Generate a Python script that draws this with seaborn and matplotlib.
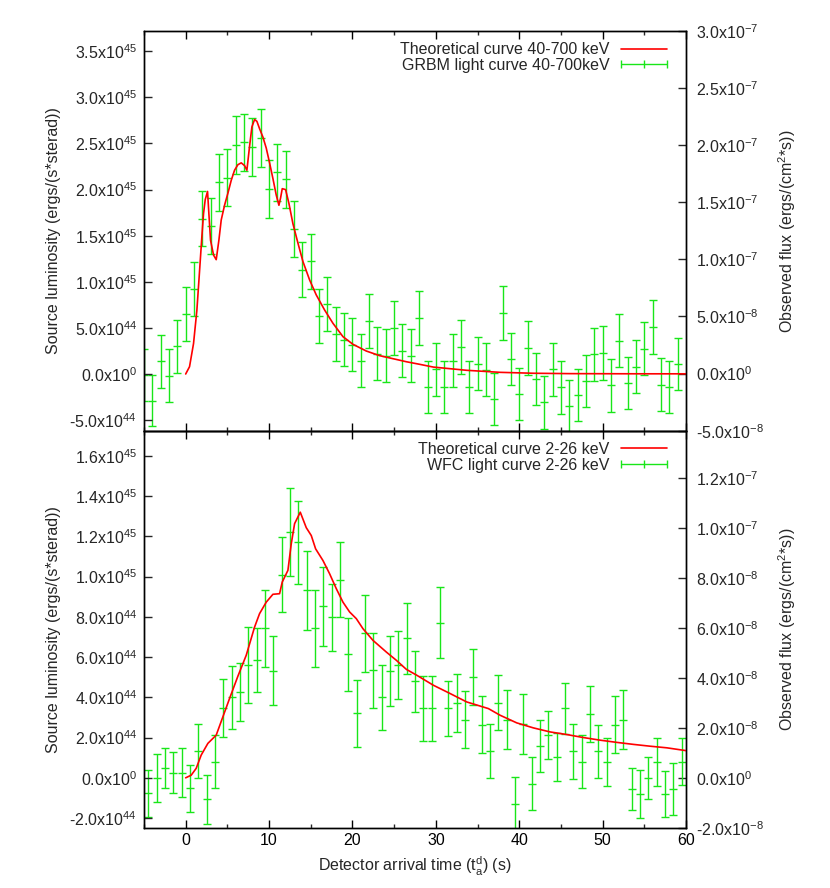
import numpy as np
import seaborn as sns
import matplotlib
matplotlib.use('Agg')
import matplotlib.pyplot as plt
from matplotlib.ticker import FuncFormatter, MultipleLocator
from matplotlib.legend_handler import HandlerErrorbar

# ---- data ----
# top panel: GRBM 40-700 keV
grbm_t = [-5, -4, -3, -2, -1, 0, 1, 2, 3, 4, 5, 6, 7, 8, 9, 10, 11, 12, 13, 14,
          15, 16, 17, 18, 19, 20, 21, 22, 23, 24, 25, 26, 27, 28, 29, 30, 31, 32,
          33, 34, 35, 36, 37, 38, 39, 40, 41, 42, 43, 44, 45, 46, 47, 48, 49, 50,
          51, 52, 53, 54, 55, 56, 57, 58, 59]
grbm_flux = [-0.1, -2.36, 1.08, -0.17, 2.39, 5.18, 7.40, 13.58, 12.94, 16.76,
             17.16, 20.04, 20.25, 19.82, 20.66, 16.17, 17.63, 17.02, 12.65, 9.09,
             9.82, 5.07, 6.12, 3.47, 2.97, 2.53, 1.14, 4.63, 1.75, 1.57,
             3.99, 2.01, 1.57, 4.87, -1.16, 0.38, -1.16, 1.14, 2.33, -1.16,
             0.87, 0.35, -2.21, 5.33, 1.28, -1.75, 2.25, -0.46, -2.51, 0.38,
             -1.2, -2.86, -1.86, -0.67, 1.69, 1.81, -1.02, 2.88, -0.81, 0.61,
             2.19, 4.11, -0.96, -1.14, 0.85]  # 1e-8 erg/cm2/s
grbm_err = [2.26, 2.26, 2.30, 2.30, 2.33, 2.36, 2.36, 2.45, 2.43, 2.49,
            2.48, 2.53, 2.52, 2.52, 2.53, 2.52, 2.50, 2.48, 2.43, 2.40,
            2.40, 2.36, 2.36, 2.36, 2.33, 2.33, 2.30, 2.36, 2.33, 2.33,
            2.33, 2.30, 2.30, 2.33, 2.26, 2.30, 2.26, 2.30, 2.33, 2.26,
            2.30, 2.30, 2.26, 2.36, 2.30, 2.28, 2.33, 2.30, 2.30, 2.30,
            2.30, 2.28, 2.28, 2.28, 2.33, 2.33, 2.30, 2.30, 2.28, 2.30,
            2.30, 2.36, 2.30, 2.28, 2.30]

theo_hi_t = [0, 0.46, 0.94, 1.34, 1.62, 1.94, 2.14, 2.34, 2.62, 2.78,
             2.98, 3.34, 3.66, 3.98, 4.26, 4.66, 5.06, 5.46, 5.86, 6.26,
             6.66, 7.06, 7.34, 7.66, 7.94, 8.26, 8.54, 8.86, 9.26, 9.66,
             10.06, 10.46, 10.86, 11.18, 11.38, 11.58, 11.98, 12.38, 12.86, 13.46,
             14.06, 14.86, 15.66, 16.66, 17.66, 18.86, 20.06, 21.66, 23.26, 24.86,
             26.46, 28.06, 29.7, 33.7, 37.7, 41.7, 46, 50, 55, 60]
theo_hi_lum = [0, 0.079, 0.33, 0.69, 1.06, 1.49, 1.74, 1.89, 1.98, 1.74,
               1.45, 1.29, 1.24, 1.45, 1.67, 1.83, 1.96, 2.10, 2.21, 2.27,
               2.29, 2.26, 2.21, 2.47, 2.68, 2.76, 2.74, 2.66, 2.57, 2.45,
               2.29, 2.12, 1.94, 1.83, 1.91, 2.01, 2.00, 1.85, 1.63, 1.42,
               1.22, 1.02, 0.857, 0.694, 0.55, 0.405, 0.322, 0.249, 0.199, 0.166,
               0.133, 0.105, 0.075, 0.04, 0.018, 0.008, 0.004, 0.003, 0.002, 0.002]  # 1e45

# bottom panel: WFC 2-26 keV
wfc_t = [-4.5, -3.5, -2.5, -1.5, -0.5, 0.5, 1.5, 2.5, 3.5, 4.5, 5.5, 6.5, 7.5,
         8.5, 9.5, 10.5, 11.5, 12.5, 13.5, 14.5, 15.5, 16.5, 17.5, 18.5, 19.5,
         20.5, 21.5, 22.5, 23.5, 24.5, 25.5, 26.5, 27.5, 28.5, 29.5, 30.5, 31.5,
         32.5, 33.5, 34.5, 35.5, 36.5, 37.5, 38.5, 39.5, 40.5, 41.5, 42.5, 43.5,
         44.5, 45.5, 46.5, 47.5, 48.5, 49.5, 50.5, 51.5, 52.5, 53.5, 54.5, 55.5,
         56.5, 57.5, 58.5, 59.5]
wfc_flux = [-0.62, 0.0, 0.41, 0.21, 0.21, -0.43, 1.07, -0.87, 0.64, 2.78,
            3.22, 3.43, 4.51, 4.71, 5.99, 4.28, 8.14, 9.84, 9.43, 7.50,
            5.99, 6.86, 6.42, 7.94, 4.94, 2.58, 5.78, 4.30, 3.22, 4.28,
            4.51, 5.58, 3.86, 2.78, 2.78, 6.21, 2.78, 2.99, 2.33, 4.04,
            2.13, 1.06, 3.0, 2.33, -1.07, 2.15, -0.23, 1.27, 1.71, 0.84,
            2.78, 1.06, 0.64, 2.56, 1.06, 0.64, 2.13, 2.33, -0.44, -0.65,
            -0.01, 0.64, -0.65, -0.44, 0.64]  # 1e-8 erg/cm2/s
wfc_err = [0.95, 0.96, 0.80, 0.83, 0.99, 0.95, 1.07, 1.0, 1.06, 1.16,
           1.27, 1.17, 1.52, 1.28, 1.55, 1.38, 1.51, 1.75, 1.67, 1.60,
           1.55, 1.59, 1.36, 1.52, 1.46, 1.33, 1.53, 1.49, 1.30, 1.39,
           1.36, 1.43, 1.21, 1.29, 1.29, 1.43, 1.10, 1.17, 1.15, 1.12,
           1.13, 1.08, 1.10, 1.19, 1.10, 1.20, 1.07, 1.05, 0.96, 0.97,
           1.02, 1.10, 1.07, 1.13, 1.07, 0.97, 1.13, 1.19, 0.85, 0.98,
           0.85, 0.97, 0.93, 1.05, 0.94]

theo_lo_t = [0, 0.66, 1.26, 1.86, 2.66, 3.66, 4.46, 5.26, 6.26, 7.26,
             8.26, 8.86, 9.66, 10.46, 11.26, 11.58, 12.26, 12.66, 13.06, 13.74,
             14.46, 15.06, 15.58, 16.46, 17.26, 18.06, 18.86, 19.66, 20.46, 21.26,
             22.46, 24.06, 25.26, 26.46, 27.7, 29.7, 31.7, 33.7, 36.3, 37.7,
             39.7, 41.7, 43.7, 45.7, 47.7, 49.7, 51.7, 53.7, 55.7, 57.7, 60]
theo_lo_lum = [0, 0.13, 0.47, 1.13, 1.71, 2.12, 3.03, 3.94, 5.05, 6.09,
               7.49, 8.16, 8.73, 9.12, 9.15, 9.73, 10.31, 11.63, 12.63, 13.2,
               12.43, 12.04, 11.38, 10.8, 10.14, 9.40, 8.73, 8.24, 7.91, 7.41,
               6.83, 6.25, 5.84, 5.39, 5.10, 4.60, 4.19, 3.77, 3.44, 3.11,
               2.73, 2.48, 2.28, 2.15, 2.00, 1.87, 1.76, 1.66, 1.57, 1.49, 1.35]  # 1e44

sns.set_theme(style='white')
plt.rcParams['font.family'] = ['Liberation Sans', 'DejaVu Sans']
plt.rcParams['mathtext.fontset'] = 'custom'
plt.rcParams['mathtext.rm'] = 'Liberation Sans'
plt.rcParams['mathtext.it'] = 'Liberation Sans'
plt.rcParams['axes.edgecolor'] = 'black'
plt.rcParams['axes.linewidth'] = 1.0

RED = '#ff0000'
GREEN = '#19e619'
FS = 11.5


def sci(v, pos=None):
    if v == 0:
        return r'0.0x10$^{0}$'
    m, e = f'{v:.1e}'.split('e')
    return m + r'x10$^{' + str(int(e)) + '}$'


def style_axes(ax, ax2):
    ax.set_xlim(-5, 60)
    ax.xaxis.set_major_locator(MultipleLocator(10))
    ax.xaxis.set_minor_locator(MultipleLocator(5))
    ax.tick_params(axis='x', which='major', direction='in', length=6, top=True, bottom=True,
                   labelsize=FS, colors='black', width=1)
    ax.tick_params(axis='x', which='minor', direction='in', length=3, top=True, bottom=True,
                   width=1)
    ax.tick_params(axis='y', direction='in', length=6, left=True, right=False,
                   labelsize=FS, width=1, pad=5)
    ax2.tick_params(axis='y', direction='in', length=6, right=True, left=False,
                    labelsize=FS, width=1, pad=7)
    ax2.tick_params(axis='x', top=False, bottom=False)
    ax.yaxis.set_major_formatter(FuncFormatter(sci))
    ax2.yaxis.set_major_formatter(FuncFormatter(sci))
    ax.set_ylabel('Source luminosity (ergs/(s*sterad))', fontsize=FS, labelpad=6)
    ax2.set_ylabel(r'Observed flux (ergs/(cm$^{2}$*s))', fontsize=FS, labelpad=9)
    for sp in list(ax.spines.values()) + list(ax2.spines.values()):
        sp.set_color('black')


fig = plt.figure(figsize=(8.3, 8.88), dpi=100)
L, W = 144 / 830, 542 / 830
ax_top = fig.add_axes([L, 1 - 430.7 / 888, W, (430.7 - 31) / 888])
ax_bot = fig.add_axes([L, 1 - 827.7 / 888, W, (827.7 - 430.7) / 888])

panels = [
    (ax_top, theo_hi_t, theo_hi_lum, 1e45, grbm_t, grbm_flux, grbm_err,
     'Theoretical curve 40-700 keV', 'GRBM light curve 40-700keV',
     (-6.15e44, 3.72e45), np.arange(-5e44, 3.6e45, 5e44),
     (-5e-8, 3e-7), np.arange(-5e-8, 3.1e-7, 5e-8)),
    (ax_bot, theo_lo_t, theo_lo_lum, 1e44, wfc_t, wfc_flux, wfc_err,
     'Theoretical curve 2-26 keV', 'WFC light curve 2-26 keV',
     (-2.48e44, 1.725e45), np.arange(-2e44, 1.7e45, 2e44),
     (-2e-8, 1.39e-7), np.arange(-2e-8, 1.3e-7, 2e-8)),
]

for (ax, tt, tl, tscale, dt, df, de, lab_t, lab_d, ylim, yticks, y2lim, y2ticks) in panels:
    ax2 = ax.twinx()
    ax.set_zorder(ax2.get_zorder() + 1)
    ax.patch.set_visible(False)
    lum = np.array(tl) * tscale
    sns.lineplot(x=tt, y=lum, ax=ax, color=RED, lw=1.2, label=lab_t, legend=False)
    ax2.errorbar(dt, np.array(df) * 1e-8, yerr=np.array(de) * 1e-8, fmt='_',
                 color=GREEN, ecolor=GREEN, ms=6, mew=1, elinewidth=1,
                 capsize=3, capthick=1, zorder=1)
    ax.set_ylim(*ylim)
    ax.set_yticks(yticks)
    ax2.set_ylim(*y2lim)
    ax2.set_yticks(y2ticks)
    style_axes(ax, ax2)
    h1 = ax.get_lines()[0]
    # gnuplot-style legend key: horizontal bar with end caps and a centre tick
    key = ax.errorbar([np.nan], [np.nan], xerr=[1], fmt='|', color=GREEN, ms=6, mew=1,
                      elinewidth=1, capsize=3, capthick=1)
    leg = ax.legend([h1, key], [lab_t, lab_d], loc='upper right', frameon=False,
                    bbox_to_anchor=(1 - 8 / 542, 1),
                    markerfirst=False, fontsize=FS, handlelength=2.9,
                    borderaxespad=0.3, labelspacing=0.05, handletextpad=0.7,
                    handler_map={type(key): HandlerErrorbar(xerr_size=1.45, yerr_size=0.3)})
    # right-align the legend entries like gnuplot does
    for col in leg._legend_handle_box.get_children():
        col.align = 'right'

ax_top.tick_params(axis='x', labelbottom=False)
ax_bot.set_xlabel(r'Detector arrival time (t$_{\rm a}^{\rm d}$) (s)', fontsize=FS, labelpad=5)

fig.savefig('out.png', dpi=100)
